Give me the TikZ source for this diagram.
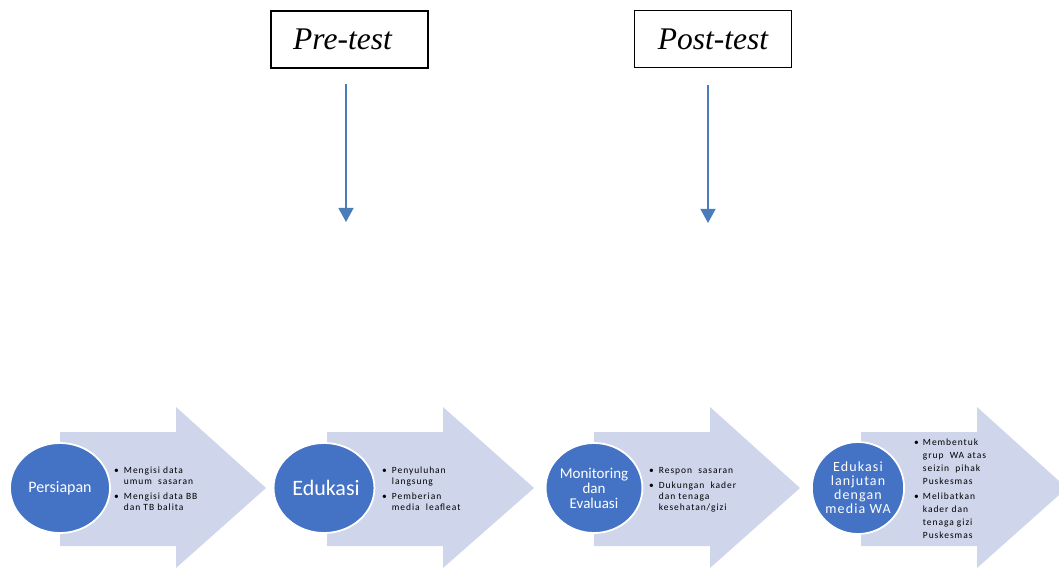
\documentclass[tikz,border=0pt]{standalone}
\usepackage{fontspec}
\setmainfont{Carlito}
\newfontfamily\timesfont{Liberation Serif}
\newfontfamily\listfont[LetterSpace=10]{Carlito}
\newfontfamily\wafont[LetterSpace=8]{Carlito}
\usetikzlibrary{arrows.meta,shapes.geometric}

\definecolor{chevfill}{RGB}{207,213,234}
\definecolor{stepblue}{RGB}{68,114,196}
\definecolor{flowblue}{RGB}{74,126,187}

\tikzset{
	testbox/.style={draw, line width=1.3pt, minimum width=157pt, minimum height=57pt, inner sep=0pt, font=\timesfont\itshape\fontsize{31.5}{33}\selectfont},
	flow/.style={draw=flowblue, line width=1.4pt, -{Triangle[width=15pt,length=14pt]}},
	stepcirc/.style={ellipse, fill=stepblue, draw=white, line width=1.8pt, text=white, align=center, inner sep=0pt, minimum height=90pt},
	steplist/.style={anchor=west, inner sep=0pt, font=\listfont\fontsize{9.5}{11}\selectfont}
}

\begin{document}
\begin{tikzpicture}[x=1pt, y=-1pt]

	\useasboundingbox (0,0) rectangle (1059,569);

	% pre / post test
	\node (pre) [testbox] at (349.5, 39.5) {Pre-test\kern14pt};
	\node (post) [testbox] at (713, 39) {Post-test};

	\coordinate (preend) at (346, 222);
	\coordinate (postend) at (708, 223);

	\draw[flow] ([xshift=-3.5pt, yshift=-15pt]pre.south) -- (preend);
	\draw[flow] ([xshift=-5pt, yshift=-17pt]post.south) -- (postend);

	% chevrons
	\fill[chevfill] (60,432) -- (176,432) -- (176,407) -- (266,488) -- (176,568) -- (176,546) -- (60,546) -- cycle;
	\fill[chevfill] (327,432) -- (443,432) -- (443,407) -- (534,488) -- (443,568) -- (443,546) -- (327,546) -- cycle;
	\fill[chevfill] (594,432) -- (710,432) -- (710,407) -- (800,488) -- (710,568) -- (710,546) -- (594,546) -- cycle;
	\fill[chevfill] (861,432) -- (977,432) -- (977,407) -- (1059,481) -- (1059,495) -- (977,568) -- (977,546) -- (861,546) -- cycle;

	% steps
	\node (persiapan) [stepcirc, minimum width=100pt, font=\fontsize{16}{18}\selectfont] at (60, 488) {Persiapan};
	\node (edukasi) [stepcirc, minimum width=93pt, font=\fontsize{22}{24}\selectfont] at (324, 488) {\kern4pt Edukasi};
	\node (monev) [stepcirc, minimum width=93pt, font=\fontsize{15}{15}\selectfont] at (594, 488) {Monitoring\\dan\\Evaluasi};
	\node (lanjutan) [stepcirc, minimum width=89pt, minimum height=92pt, font=\wafont\fontsize{14}{14}\selectfont] at (858, 488) {Edukasi\\lanjutan\\dengan\\media WA};

	% lists
	\node (list1) [steplist] at (114, 490) {\begin{tabular}{@{}l@{\hspace{5pt}}l@{}}
		\textbullet & Mengisi data\\
		& umum \ sasaran\\[4pt]
		\textbullet & Mengisi data BB\\
		& dan TB balita
	\end{tabular}};
	\node (list2) [steplist] at (382, 490) {\begin{tabular}{@{}l@{\hspace{5pt}}l@{}}
		\textbullet & Penyuluhan\\
		& langsung\\[4pt]
		\textbullet & Pemberian\\
		& media \ leafleat
	\end{tabular}};
	\node (list3) [steplist] at (649, 490) {\begin{tabular}{@{}l@{\hspace{5pt}}l@{}}
		\textbullet & Respon \ sasaran\\[4pt]
		\textbullet & Dukungan \ kader\\
		& dan tenaga\\
		& kesehatan/gizi
	\end{tabular}};
	\node (list4) [steplist, font=\listfont\fontsize{9.5}{13}\selectfont] at (914, 489) {\begin{tabular}{@{}l@{\hspace{4pt}}l@{}}
		\textbullet & Membentuk\\
		& grup \ WA atas\\
		& seizin \ pihak\\
		& Puskesmas\\[2pt]
		\textbullet & Melibatkan\\
		& kader dan\\
		& tenaga gizi\\
		& Puskesmas
	\end{tabular}};

\end{tikzpicture}
\end{document}
